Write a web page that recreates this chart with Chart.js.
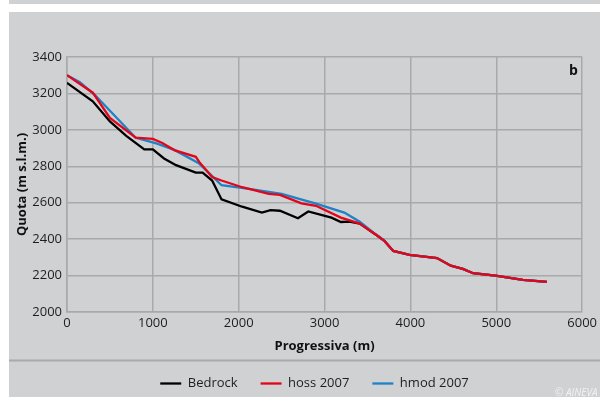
<!DOCTYPE html>
<html>
<head>
<meta charset="utf-8">
<script src="https://cdn.jsdelivr.net/npm/chart.js@4.4.0/dist/chart.umd.min.js"></script>
<style>
  body { margin: 0; background: #fff; width: 600px; height: 397px; overflow: hidden; position: relative; font-family: 'Open Sans', sans-serif; }
  #strip { position: absolute; left: 9px; top: 0; width: 591px; height: 4px; background: #d0d1d3; }
  #panel { position: absolute; left: 9px; top: 12px; width: 591px; height: 385px; background: #d0d1d3; overflow: hidden; }
  #wrap { position: absolute; left: 0; top: 0; width: 591px; height: 388px; }
  #tag { position: absolute; left: 560px; top: 48px; font-weight: bold; font-size: 14px; color: #111; }
  #copy { position: absolute; left: 546px; top: 373px; font-style: italic; font-size: 10px; color: #f2f2f2; white-space: nowrap; }
</style>
</head>
<body>
<div id="strip"></div>
<div id="panel">
  <div id="wrap"><canvas id="chart"></canvas></div>
  <div id="tag">b</div>
  <div id="copy">© AINEVA</div>
</div>
<script>
// progressiva (m) and quota (m s.l.m.)
const bedrockX = [0, 300, 500, 690, 900, 1000, 1130, 1270, 1500, 1580, 1690, 1800, 2040, 2270, 2370, 2480, 2690, 2810, 3080, 3190, 3290, 3410, 3620, 3700, 3800, 3990, 4310, 4470, 4610, 4730, 4990, 5310, 5590];
const bedrockY = [3258, 3157, 3046, 2967, 2893, 2893, 2843, 2806, 2765, 2765, 2722, 2618, 2578, 2546, 2559, 2556, 2515, 2552, 2518, 2494, 2496, 2485, 2417, 2389, 2335, 2313, 2296, 2254, 2237, 2213, 2200, 2176, 2165];

const hossX = [0, 300, 500, 800, 1000, 1110, 1250, 1500, 1540, 1690, 1800, 2040, 2350, 2480, 2730, 2900, 3190, 3410, 3620, 3700, 3800, 3990, 4310, 4470, 4610, 4730, 4990, 5310, 5590];
const hossY = [3300, 3204, 3065, 2957, 2950, 2928, 2889, 2852, 2824, 2741, 2722, 2685, 2648, 2643, 2596, 2583, 2518, 2485, 2417, 2389, 2335, 2313, 2296, 2254, 2237, 2213, 2200, 2176, 2165];

const hmodX = [0, 150, 320, 800, 1040, 1250, 1540, 1800, 2120, 2500, 2890, 3230, 3410, 3620, 3700, 3800, 3990, 4310, 4470, 4610, 4730, 4990, 5310, 5590];
const hmodY = [3300, 3262, 3194, 2957, 2926, 2890, 2815, 2696, 2676, 2648, 2596, 2546, 2496, 2417, 2389, 2335, 2313, 2296, 2254, 2237, 2213, 2200, 2176, 2165];

const seriesNames = ['Bedrock', 'hoss 2007', 'hmod 2007'];
const seriesColors = ['#000000', '#e3061b', '#1d82c6'];
const xTicks = [0, 1000, 2000, 3000, 4000, 5000, 6000];
const yTicks = [2000, 2200, 2400, 2600, 2800, 3000, 3200, 3400];

function toPoints(xs, ys) {
  return xs.map((x, i) => ({ x: x, y: ys[i] }));
}

const gridColor = '#a8a9ab';
const textColor = '#1e1e1e';

// grey rule between axis title and legend, legend nudged right like the original
const frame = {
  id: 'frame',
  afterLayout(chart) {
    chart.legend.left += 18;
    chart.legend.right += 18;
  },
  beforeDraw(chart) {
    const ctx = chart.ctx;
    ctx.save();
    ctx.strokeStyle = '#a9aaac';
    ctx.lineWidth = 2;
    ctx.beginPath();
    ctx.moveTo(0, 348.5);
    ctx.lineTo(chart.width, 348.5);
    ctx.stroke();
    ctx.restore();
  }
};

new Chart(document.getElementById('chart'), {
  type: 'line',
  data: {
    datasets: [
      { label: seriesNames[0], data: toPoints(bedrockX, bedrockY), borderColor: seriesColors[0], backgroundColor: seriesColors[0], order: 2 },
      { label: seriesNames[1], data: toPoints(hossX, hossY), borderColor: seriesColors[1], backgroundColor: seriesColors[1], order: 0 },
      { label: seriesNames[2], data: toPoints(hmodX, hmodY), borderColor: seriesColors[2], backgroundColor: seriesColors[2], order: 1 }
    ]
  },
  options: {
    responsive: true,
    maintainAspectRatio: false,
    animation: false,
    elements: {
      line: { borderWidth: 2.3, tension: 0 },
      point: { radius: 0 }
    },
    layout: { padding: { left: 0, top: 45, right: 16, bottom: 0 } },
    plugins: {
      tooltip: { enabled: false },
      legend: {
        position: 'bottom',
        labels: {
          usePointStyle: true,
          pointStyle: 'line',
          pointStyleWidth: 21,
          padding: 23,
          color: textColor,
          font: { family: 'Open Sans', size: 13 },
          generateLabels: chart => Chart.defaults.plugins.legend.labels.generateLabels(chart).map(item => ({
            ...item,
            strokeStyle: seriesColors[item.datasetIndex],
            fillStyle: seriesColors[item.datasetIndex],
            lineWidth: 2.3
          })),
          sort: (a, b) => a.datasetIndex - b.datasetIndex
        }
      }
    },
    scales: {
      x: {
        type: 'linear',
        min: xTicks[0],
        max: xTicks[xTicks.length - 1],
        afterBuildTicks: s => { s.ticks = xTicks.map(v => ({ value: v })); },
        afterFit: s => { s.height = 42; },
        grid: { color: gridColor, lineWidth: 1.5, drawTicks: false },
        border: { color: gridColor, width: 1.5 },
        ticks: { color: textColor, font: { family: 'Open Sans', size: 13 }, padding: 3, maxRotation: 0, callback: v => String(v) },
        title: { display: true, text: 'Progressiva (m)', color: '#111', font: { family: 'Open Sans', size: 13, weight: 'bold' }, padding: { top: 2, bottom: 0 } }
      },
      y: {
        min: yTicks[0],
        max: yTicks[yTicks.length - 1],
        afterBuildTicks: s => { s.ticks = yTicks.map(v => ({ value: v })); },
        afterFit: s => { s.width = 58; },
        grid: { color: gridColor, lineWidth: 1.5, drawTicks: false },
        border: { color: gridColor, width: 1.5 },
        ticks: { color: textColor, font: { family: 'Open Sans', size: 13 }, padding: 5, callback: v => String(v) },
        title: { display: true, text: 'Quota (m s.l.m.)', color: '#111', font: { family: 'Open Sans', size: 13, weight: 'bold' }, padding: { top: 5, bottom: 2 } }
      }
    }
  },
  plugins: [frame]
});
</script>
</body>
</html>
